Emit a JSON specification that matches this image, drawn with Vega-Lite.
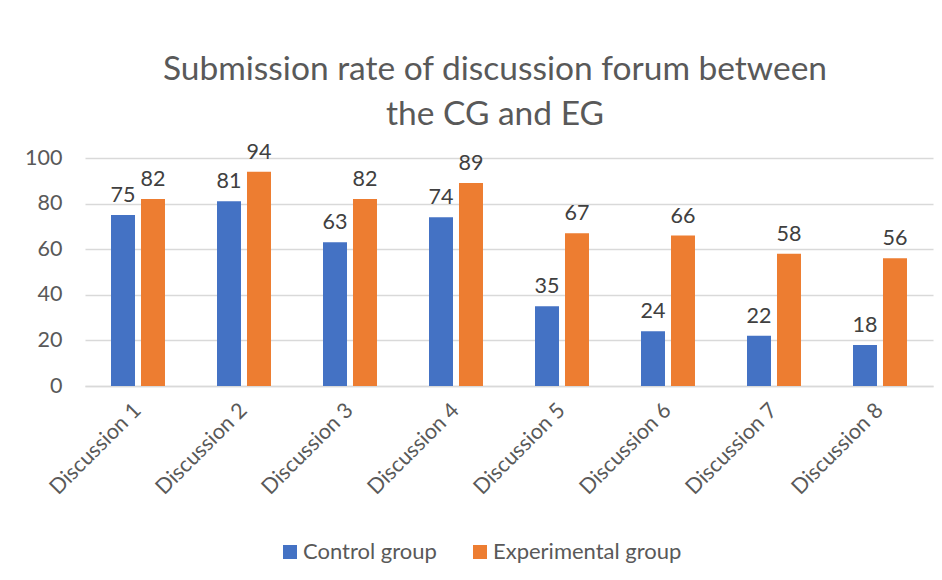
{
  "$schema": "https://vega.github.io/schema/vega-lite/v6.json",
  "width": 848,
  "height": 228,
  "autosize": "none",
  "padding": {"left": 85, "top": 158, "right": 9, "bottom": 194},
  "background": "white",
  "title": {
    "text": ["Submission rate of discussion forum between", "the CG and EG"],
    "anchor": "middle",
    "dx": -14,
    "dy": 55,
    "offset": 38,
    "baseline": "alphabetic",
    "font": "Lato",
    "fontSize": 33.5,
    "fontWeight": "normal",
    "color": "#595959",
    "lineHeight": 45
  },
  "data": {
    "values": [
      {"discussion": "Discussion 1", "group": "Control group", "rate": 75},
      {"discussion": "Discussion 1", "group": "Experimental group", "rate": 82},
      {"discussion": "Discussion 2", "group": "Control group", "rate": 81},
      {"discussion": "Discussion 2", "group": "Experimental group", "rate": 94},
      {"discussion": "Discussion 3", "group": "Control group", "rate": 63},
      {"discussion": "Discussion 3", "group": "Experimental group", "rate": 82},
      {"discussion": "Discussion 4", "group": "Control group", "rate": 74},
      {"discussion": "Discussion 4", "group": "Experimental group", "rate": 89},
      {"discussion": "Discussion 5", "group": "Control group", "rate": 35},
      {"discussion": "Discussion 5", "group": "Experimental group", "rate": 67},
      {"discussion": "Discussion 6", "group": "Control group", "rate": 24},
      {"discussion": "Discussion 6", "group": "Experimental group", "rate": 66},
      {"discussion": "Discussion 7", "group": "Control group", "rate": 22},
      {"discussion": "Discussion 7", "group": "Experimental group", "rate": 58},
      {"discussion": "Discussion 8", "group": "Control group", "rate": 18},
      {"discussion": "Discussion 8", "group": "Experimental group", "rate": 56}
    ]
  },
  "encoding": {
    "x": {
      "field": "discussion",
      "type": "nominal",
      "title": null,
      "scale": {"paddingInner": 0, "paddingOuter": 0},
      "axis": {
        "labelAngle": -45,
        "labelFont": "Lato",
        "labelFontSize": 21.5,
        "labelColor": "#595959",
        "labelPadding": 21,
        "labelBaseline": "middle",
        "ticks": false,
        "domainColor": "#d9d9d9",
        "domainWidth": 1.5
      }
    },
    "xOffset": {
      "field": "group",
      "type": "nominal",
      "scale": {"paddingInner": 0.2, "paddingOuter": 0.867}
    },
    "y": {
      "field": "rate",
      "type": "quantitative",
      "title": null,
      "scale": {"domain": [0, 100]},
      "axis": {
        "values": [0, 20, 40, 60, 80, 100],
        "labelFont": "Lato",
        "labelFontSize": 21.5,
        "labelColor": "#595959",
        "labelPadding": 23,
        "ticks": false,
        "domain": false,
        "gridColor": "#d9d9d9",
        "gridWidth": 1.5
      }
    },
    "color": {
      "field": "group",
      "type": "nominal",
      "scale": {"domain": ["Control group", "Experimental group"], "range": ["#4472C4", "#ED7D31"]},
      "legend": {
        "title": null,
        "orient": "none",
        "direction": "horizontal",
        "legendX": 194,
        "legendY": 383,
        "symbolType": "square",
        "symbolSize": 196,
        "symbolStrokeWidth": 0,
        "labelFont": "Lato",
        "labelFontSize": 22,
        "labelColor": "#595959",
        "labelOffset": 2,
        "labelLimit": 400,
        "columnPadding": 32
      }
    }
  },
  "layer": [
    {"mark": {"type": "bar"}},
    {
      "mark": {"type": "text", "baseline": "alphabetic", "dy": -13, "font": "Lato", "fontSize": 21.5, "color": "#404040"},
      "encoding": {"text": {"field": "rate", "type": "quantitative"}, "color": {"value": "#404040"}}
    }
  ],
  "config": {"view": {"stroke": null}}
}
